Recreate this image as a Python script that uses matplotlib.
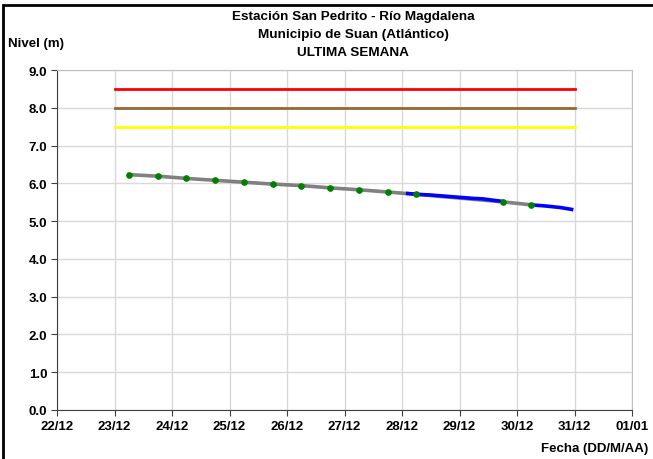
import matplotlib
matplotlib.use("Agg")
import matplotlib.pyplot as plt
import matplotlib.dates as mdates
from matplotlib.patches import Rectangle
from datetime import datetime, timedelta

plt.rcParams['font.family'] = ['Liberation Sans', 'DejaVu Sans']
plt.rcParams['font.weight'] = 'bold'

base = datetime(2019, 12, 22)

# manual readings (gray line, green markers): day offset from 22/12, level (m)
manual_days = [1.25, 1.75, 2.25, 2.75, 3.25, 3.75, 4.25, 4.75, 5.25, 5.75, 6.25, 7.75, 8.25]
manual_level = [6.23, 6.19, 6.13, 6.08, 6.03, 5.98, 5.94, 5.88, 5.83, 5.77, 5.71, 5.51, 5.43]

# telemetry (blue line), two segments
tele1_days = [6.1, 6.25, 6.5, 6.75, 7.0, 7.25, 7.4, 7.5, 7.75]
tele1_level = [5.73, 5.71, 5.69, 5.66, 5.63, 5.60, 5.59, 5.57, 5.52]
tele2_days = [8.25, 8.5, 8.75, 8.95]
tele2_level = [5.43, 5.40, 5.36, 5.31]

# alert thresholds
alert_levels = [8.5, 8.0, 7.5]
alert_colors = ['#ff0000', '#996633', '#ffff00']
alert_start, alert_end = 1.0, 9.0

x_tick_days = list(range(0, 11))

def to_dt(days):
    return [base + timedelta(days=d) for d in days]

fig = plt.figure(figsize=(6.53, 4.6), dpi=100)
ax = fig.add_axes([57 / 653, 49 / 460, 575 / 653, 340 / 460])

for lvl, col in zip(alert_levels, alert_colors):
    ax.plot(to_dt([alert_start, alert_end]), [lvl, lvl], color=col, lw=2.0, zorder=3)

ax.plot(to_dt(manual_days), manual_level, color='#808080', lw=2.6, zorder=3)
ax.plot(to_dt(tele1_days), tele1_level, color='#0000ff', lw=2.6, zorder=4)
ax.plot(to_dt(tele2_days), tele2_level, color='#0000ff', lw=2.6, zorder=4)
ax.plot(to_dt(manual_days), manual_level, 'o', color='#008000', ms=3.8, zorder=5)

ax.set_ylim(0, 9)
ax.set_yticks([i for i in range(10)])
ax.yaxis.set_major_formatter(matplotlib.ticker.FormatStrFormatter('%.1f'))
ax.set_xlim(base, base + timedelta(days=10))
ax.set_xticks(to_dt(x_tick_days))
ax.xaxis.set_major_formatter(mdates.DateFormatter('%d/%m'))
ax.grid(True, color='#d9d9d9', lw=1.0, zorder=0)
ax.tick_params(labelsize=9.5, length=4, width=0.8, color='#404040', pad=3)
for lab in ax.get_xticklabels() + ax.get_yticklabels():
    lab.set_fontweight('bold')
ax.spines['left'].set_color('#404040')
ax.spines['bottom'].set_color('#404040')
ax.spines['top'].set_color('#c0c0c0')
ax.spines['right'].set_color('#c0c0c0')

fig.text(353 / 653, 1 - 19.7 / 460, 'Estación San Pedrito - Río Magdalena', ha='center', va='baseline', fontsize=9.7, fontweight='bold')
fig.text(353 / 653, 1 - 38.3 / 460, 'Municipio de Suan (Atlántico)', ha='center', va='baseline', fontsize=9.7, fontweight='bold')
fig.text(353 / 653, 1 - 56.3 / 460, 'ULTIMA SEMANA', ha='center', va='baseline', fontsize=9.7, fontweight='bold')
fig.text(8 / 653, 1 - 46.7 / 460, 'Nivel (m)', ha='left', va='baseline', fontsize=9.5, fontweight='bold')
fig.text(648 / 653, 1 - 452 / 460, 'Fecha (DD/M/AA)', ha='right', va='baseline', fontsize=9.5, fontweight='bold')

fig.patches.append(Rectangle((3 / 653, -0.2), 2, (454 / 460) + 0.2, transform=fig.transFigure,
                             fill=False, edgecolor='black', lw=2.0))

fig.savefig('out.png', dpi=100)
